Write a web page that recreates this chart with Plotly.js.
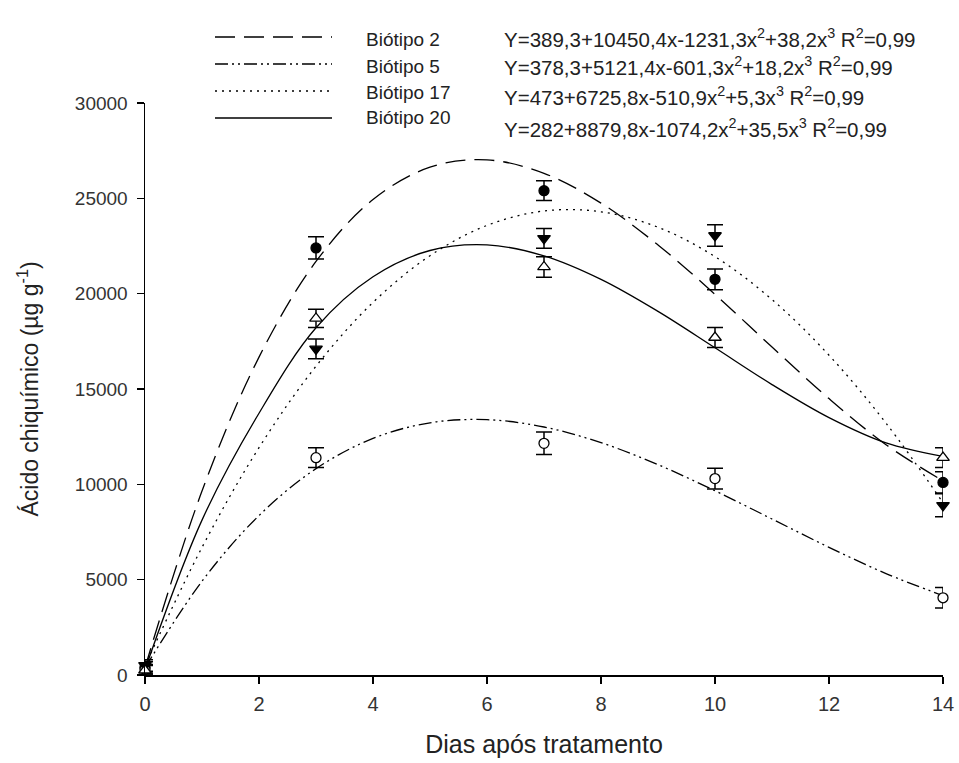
<!DOCTYPE html>
<html>
<head>
<meta charset="utf-8">
<script src="https://cdn.plot.ly/plotly-3.0.1.min.js"></script>
<style>html,body{margin:0;padding:0;background:#fff;}#chart{width:959px;height:763px;}</style>
</head>
<body>
<div id="chart"></div>
<script>
// ---- data ----
const seriesNames = ["Biótipo 2", "Biótipo 5", "Biótipo 17", "Biótipo 20"];
const days = [0, 3, 7, 10, 14];
const meanB2  = [400, 22400, 25400, 20750, 10100];
const errB2   = [300, 580, 520, 540, 560];
const meanB5  = [300, 11400, 12150, 10300, 4050];
const errB5   = [250, 520, 590, 540, 540];
const meanB17 = [500, 17100, 22900, 23050, 8900];
const errB17  = [300, 520, 520, 560, 600];
const meanB20 = [250, 18700, 21400, 17700, 11400];
const errB20  = [250, 480, 540, 520, 520];

// fitted curves
const curveDays = [0,1,2,3,4,5,6,7,8,9,10,11,12,13,14];
const fitB2  = [389, 9647, 16671, 21690, 24935, 26634, 27016, 26311, 24748, 22555, 19963, 17201, 14497, 12080, 10181];
const fitB5  = [378, 4917, 8362, 10822, 12408, 13228, 13391, 13007, 12185, 11033, 9662, 8181, 6698, 5322, 4164];
const fitB17 = [473, 6693, 11923, 16195, 19541, 21992, 23580, 24337, 24295, 23486, 21941, 19692, 16771, 13210, 9041];
const fitB20 = [282, 8123, 13729, 18212, 20886, 22264, 22558, 21981, 20748, 19070, 17160, 15232, 13499, 12173, 11468];

const equations = [
  "Y=389,3+10450,4x-1231,3x<sup>2</sup>+38,2x<sup>3</sup> R<sup>2</sup>=0,99",
  "Y=378,3+5121,4x-601,3x<sup>2</sup>+18,2x<sup>3</sup> R<sup>2</sup>=0,99",
  "Y=473+6725,8x-510,9x<sup>2</sup>+5,3x<sup>3</sup> R<sup>2</sup>=0,99",
  "Y=282+8879,8x-1074,2x<sup>2</sup>+35,5x<sup>3</sup> R<sup>2</sup>=0,99"
];
const xTicks = [0, 2, 4, 6, 8, 10, 12, 14];
const yTicks = [0, 5000, 10000, 15000, 20000, 25000, 30000];

// ---- styles ----
const W = 959, H = 763;
const M = {l: 145, r: 16, t: 103, b: 88};
const dashes = ["20px,9px", "13px,4px,2px,4px,2px,4px", "2px,5px", "solid"];
const fits = [fitB2, fitB5, fitB17, fitB20];
const means = [meanB2, meanB5, meanB17, meanB20];
const errs = [errB2, errB5, errB17, errB20];
const symbols = ["circle", "circle", "triangle-down", "triangle-up"];
const fills = ["#000", "#fff", "#000", "#fff"];
const sizes = [10, 10, 11, 11];
const FONT = "Liberation Sans, Arial, sans-serif";

const traces = [];
for (let i = 0; i < 4; i++) {
  traces.push({
    x: curveDays, y: fits[i], type: "scatter", mode: "lines",
    line: {color: "#000", width: 1.3, dash: dashes[i], shape: "spline", smoothing: 1},
    name: seriesNames[i], showlegend: false, hoverinfo: "skip"
  });
}
for (let i = 0; i < 4; i++) {
  traces.push({
    x: days, y: means[i], type: "scatter", mode: "markers",
    marker: {symbol: symbols[i], size: sizes[i], color: fills[i], line: {color: "#000", width: 1.3}},
    error_y: {type: "data", array: errs[i], visible: true, color: "#000", thickness: 1.5, width: 8},
    name: seriesNames[i], showlegend: false, cliponaxis: false
  });
}

const pw = W - M.l - M.r, ph = H - M.t - M.b;
const px = v => (v - M.l) / pw;
const py = v => (H - M.b - v) / ph;

const shapes = [], annotations = [];
const legRows = [37, 64, 91, 118];
const labRows = [40, 66, 92, 117];
const eqRows = [38, 66, 96, 128];
for (let i = 0; i < 4; i++) {
  shapes.push({type: "line", xref: "paper", yref: "paper",
    x0: px(215), x1: px(332), y0: py(legRows[i]), y1: py(legRows[i]),
    line: {color: "#000", width: 1.3, dash: dashes[i]}});
  annotations.push({xref: "paper", yref: "paper", x: px(364), y: py(labRows[i]),
    xanchor: "left", yanchor: "middle", showarrow: false, text: seriesNames[i],
    font: {family: FONT, size: 19, color: "#222"}});
  annotations.push({xref: "paper", yref: "paper", x: px(502), y: py(eqRows[i]),
    xanchor: "left", yanchor: "middle", showarrow: false, text: equations[i],
    font: {family: FONT, size: 20.5, color: "#222"}});
}

const layout = {
  width: W, height: H,
  margin: M,
  paper_bgcolor: "#fff", plot_bgcolor: "#fff",
  showlegend: false,
  font: {family: FONT, color: "#222"},
  xaxis: {
    range: [0, 14], tickvals: xTicks, ticktext: xTicks.map(String),
    showline: true, linecolor: "#000", linewidth: 1.5, mirror: false,
    ticks: "outside", ticklen: 7, tickwidth: 1.5, tickcolor: "#000",
    showgrid: false, zeroline: false, ticklabelstandoff: 3,
    tickfont: {size: 20, color: "#333"},
    title: {text: "Dias após tratamento", font: {size: 25, color: "#222"}, standoff: 22}
  },
  yaxis: {
    range: [0, 30000], tickvals: yTicks, tickformat: "d",
    showline: true, linecolor: "#000", linewidth: 1.5, mirror: false,
    ticks: "outside", ticklen: 7, tickwidth: 1.5, tickcolor: "#000",
    showgrid: false, zeroline: false, ticklabelstandoff: 5,
    tickfont: {size: 19, color: "#333"},
    title: {text: "Ácido chiquímico (µg g<sup>-1</sup>)", font: {size: 23, color: "#222"}, standoff: 30}
  },
  shapes: shapes,
  annotations: annotations
};

Plotly.newPlot("chart", traces, layout, {displayModeBar: false, staticPlot: true});
</script>
</body>
</html>
